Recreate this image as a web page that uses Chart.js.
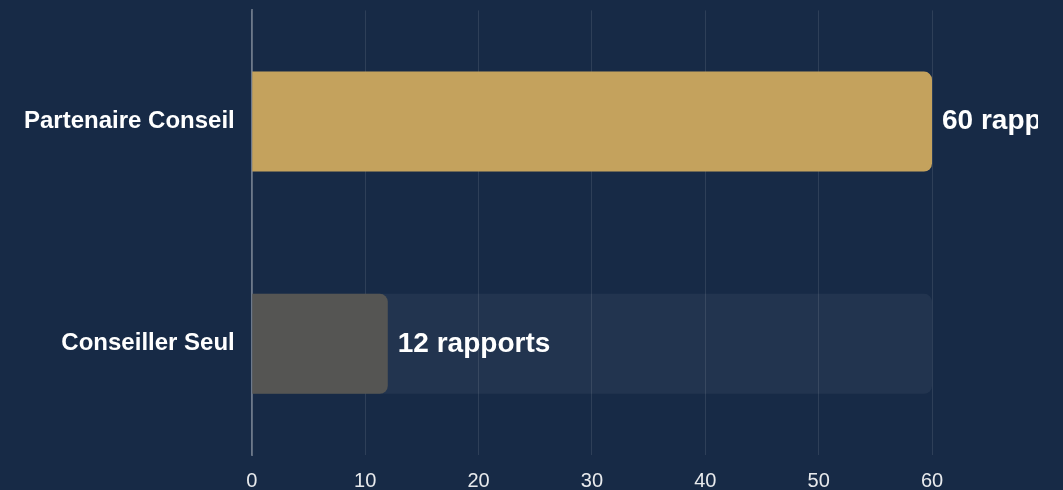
<!DOCTYPE html>
<html>
<head>
<meta charset="utf-8">
<script src="https://cdn.jsdelivr.net/npm/chart.js@4"></script>
<style>
  html, body { margin: 0; padding: 0; background: #172a46; overflow: hidden; }
  #wrap { position: absolute; left: 15px; top: -13px; width: 1023px; height: 520px; }
</style>
</head>
<body>
<div id="wrap"><canvas id="c"></canvas></div>
<script>
const categories = ["Partenaire Conseil", "Conseiller Seul"];
const values = [60, 12];
const trackValues = [60, 60];
const valueLabels = ["60 rapports", "12 rapports"];
const xTicks = [0, 10, 20, 30, 40, 50, 60];

const labelPlugin = {
  id: 'valueLabels',
  afterDatasetsDraw(chart) {
    const ctx = chart.ctx;
    const meta = chart.getDatasetMeta(0);
    ctx.save();
    ctx.font = 'bold 28px "Liberation Sans", Arial, sans-serif';
    ctx.fillStyle = '#ffffff';
    ctx.textAlign = 'left';
    ctx.textBaseline = 'middle';
    meta.data.forEach((bar, i) => {
      ctx.fillText(valueLabels[i], bar.x + 10, bar.y);
    });
    ctx.restore();
  }
};

new Chart(document.getElementById('c'), {
  type: 'bar',
  data: {
    labels: categories,
    datasets: [
      {
        data: values,
        backgroundColor: ['#c4a25d', '#555553'],
        borderRadius: 8,
        borderSkipped: 'start',
        barPercentage: 0.5,
        categoryPercentage: 0.9,
        grouped: false,
        order: 0
      },
      {
        data: trackValues,
        backgroundColor: 'rgba(255,255,255,0.05)',
        borderRadius: 8,
        borderSkipped: 'start',
        barPercentage: 0.5,
        categoryPercentage: 0.9,
        grouped: false,
        order: 1
      }
    ]
  },
  options: {
    indexAxis: 'y',
    responsive: true,
    maintainAspectRatio: false,
    animation: false,
    layout: { padding: { top: 10, right: 106, left: 0, bottom: 0 } },
    plugins: { legend: { display: false }, tooltip: { enabled: false } },
    scales: {
      x: {
        min: 0, max: 60,
        afterBuildTicks(axis) { axis.ticks = xTicks.map(v => ({ value: v })); },
        grid: { color: 'rgba(255,255,255,0.1)', drawTicks: false },
        border: { display: false },
        ticks: {
          color: 'rgba(255,255,255,0.9)',
          padding: 14,
          font: { family: '"Liberation Sans", Arial, sans-serif', size: 20 }
        }
      },
      y: {
        grid: { display: false },
        border: { display: true, color: 'rgba(255,255,255,0.3)', width: 2 },
        ticks: {
          color: '#ffffff',
          padding: 9,
          font: { family: '"Liberation Sans", Arial, sans-serif', size: 24, weight: 'bold' }
        }
      }
    }
  },
  plugins: [labelPlugin]
});
</script>
</body>
</html>
